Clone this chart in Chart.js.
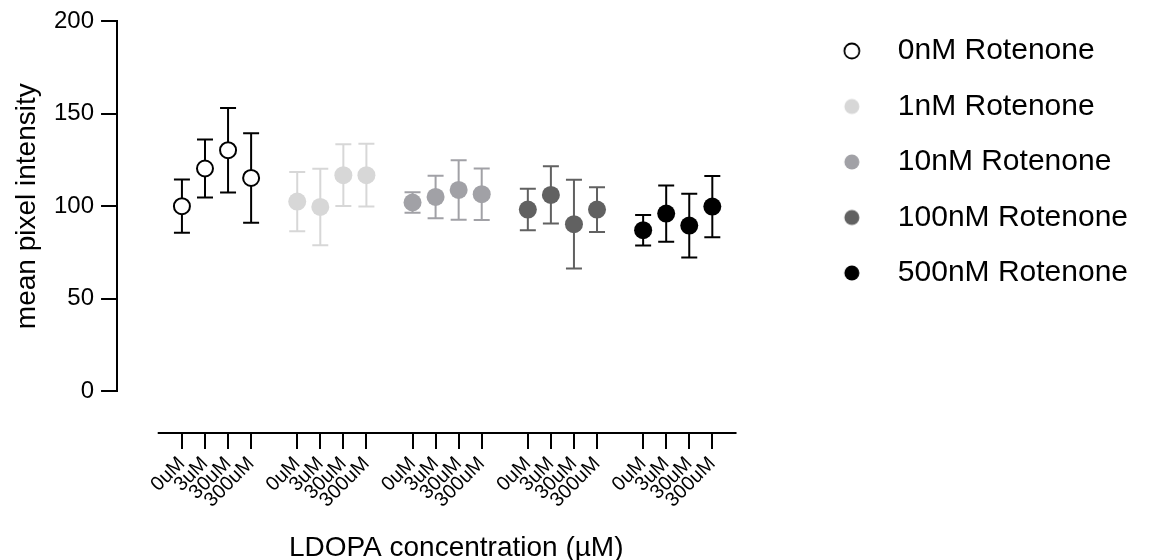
<!DOCTYPE html>
<html>
<head>
<meta charset="utf-8">
<script src="https://cdn.jsdelivr.net/npm/chart.js@4.4.1/dist/chart.umd.min.js"></script>
<style>
  html, body { margin: 0; padding: 0; background: #fff; }
  canvas { display: block; }
</style>
</head>
<body>
<canvas id="chart" width="1158" height="560"></canvas>
<script>
// categories
const doseLabels = ["0uM", "3uM", "30uM", "300uM"];
const rotenoneLabels = ["0nM Rotenone", "1nM Rotenone", "10nM Rotenone", "100nM Rotenone", "500nM Rotenone"];

// mean / SD per rotenone group
const mean0nM = [100.0, 120.4, 130.3, 115.3];
const sd0nM = [14.4, 15.7, 22.9, 24.2];
const mean1nM = [102.5, 99.6, 116.8, 116.8];
const sd1nM = [16.0, 20.7, 16.7, 17.0];
const mean10nM = [102.0, 105.0, 108.8, 106.5];
const sd10nM = [5.5, 11.5, 16.1, 13.9];
const mean100nM = [98.2, 106.1, 90.3, 98.2];
const sd100nM = [11.2, 15.5, 24.0, 12.1];
const mean500nM = [87.0, 96.0, 89.5, 99.8];
const sd500nM = [8.3, 15.2, 17.3, 16.6];

const yTicks = [0, 50, 100, 150, 200];

const allMeans = [mean0nM, mean1nM, mean10nM, mean100nM, mean500nM];
const allSds = [sd0nM, sd1nM, sd10nM, sd100nM, sd500nM];
const fillColors = ["#ffffff", "#d7d7d7", "#a1a1a6", "#616161", "#000000"];
const lineColors = ["#000000", "#d7d7d7", "#a1a1a6", "#616161", "#000000"];

// x slot of each point: 4 doses per group, one empty slot between groups
const groupGap = 5;
const xPositions = [];
allMeans.forEach((m, g) => m.forEach((v, d) => xPositions.push(g * groupGap + d)));

// x axis sits below the y range, like Prism's detached axes
const xAxisAt = -22.8;
const xAxisFrom = -1.05, xAxisTo = 24.05;

const FONT = "'Liberation Sans', Arial, Helvetica, sans-serif";
Chart.defaults.font.family = FONT;
Chart.defaults.color = "#000";

// legend markers
function legendDot(fill, stroke) {
  const c = document.createElement("canvas");
  c.width = 20; c.height = 20;
  const g = c.getContext("2d");
  g.beginPath();
  g.arc(10, 10, 7.5, 0, Math.PI * 2);
  g.fillStyle = fill;
  g.fill();
  if (fill === "#ffffff") {
    g.lineWidth = 1.8;
    g.strokeStyle = stroke;
    g.stroke();
  }
  return c;
}
const legendDots = fillColors.map((f, i) => legendDot(f, lineColors[i]));

const datasets = allMeans.map((means, g) => ({
  label: rotenoneLabels[g],
  data: means.map((m, d) => ({ x: g * groupGap + d, y: m })),
  backgroundColor: fillColors[g],
  borderColor: lineColors[g],
  borderWidth: g === 0 ? 2 : 0,
  pointRadius: g === 0 ? 8 : 9,
  pointHoverRadius: g === 0 ? 8 : 9,
  showLine: false
}));

// error bars, drawn under the points
const errorBars = {
  id: "errorBars",
  beforeDatasetsDraw(chart) {
    const ctx = chart.ctx;
    const yScale = chart.scales.y;
    ctx.save();
    chart.data.datasets.forEach((ds, g) => {
      const meta = chart.getDatasetMeta(g);
      meta.data.forEach((pt, i) => {
        const m = allMeans[g][i], s = allSds[g][i];
        const top = yScale.getPixelForValue(m + s);
        const bot = yScale.getPixelForValue(m - s);
        ctx.strokeStyle = lineColors[g];
        ctx.lineWidth = 2;
        ctx.beginPath();
        ctx.moveTo(pt.x, top); ctx.lineTo(pt.x, bot);
        ctx.moveTo(pt.x - 8, top); ctx.lineTo(pt.x + 8, top);
        ctx.moveTo(pt.x - 8, bot); ctx.lineTo(pt.x + 8, bot);
        ctx.stroke();
      });
    });
    ctx.restore();
  }
};

// x axis line, shorter than the plot width
const xAxisLine = {
  id: "xAxisLine",
  afterDraw(chart) {
    const ctx = chart.ctx;
    const x = chart.scales.x, y = chart.scales.y;
    const py = Math.round(y.getPixelForValue(xAxisAt));
    ctx.save();
    ctx.strokeStyle = "#000";
    ctx.lineWidth = 2;
    ctx.beginPath();
    ctx.moveTo(x.getPixelForValue(xAxisFrom), py);
    ctx.lineTo(x.getPixelForValue(xAxisTo), py);
    ctx.stroke();
    ctx.restore();
  }
};

new Chart(document.getElementById("chart"), {
  type: "scatter",
  data: { datasets },
  plugins: [errorBars, xAxisLine],
  options: {
    responsive: false,
    animation: false,
    clip: false,
    layout: { padding: { top: 10.5, right: 20, bottom: 169, left: 0 } },
    plugins: {
      tooltip: { enabled: false },
      legend: {
        position: "right",
        align: "start",
        maxWidth: 420,
        labels: {
          usePointStyle: true,
          pointStyleWidth: 62,
          padding: 25.5,
          color: "#000",
          font: { size: 30, family: FONT },
          generateLabels: (chart) => chart.data.datasets.map((ds, i) => ({
            text: ds.label,
            pointStyle: legendDots[i],
            fillStyle: fillColors[i],
            strokeStyle: lineColors[i],
            lineWidth: 0,
            hidden: false,
            datasetIndex: i,
            fontColor: "#000"
          }))
        }
      }
    },
    scales: {
      x: {
        type: "linear",
        position: { y: xAxisAt },
        min: -2.814,
        max: 26.6,
        afterBuildTicks: (scale) => { scale.ticks = xPositions.map(v => ({ value: v })); },
        border: { display: false },
        grid: {
          drawOnChartArea: false,
          drawTicks: true,
          tickLength: 16,
          color: "#000",
          lineWidth: 2
        },
        ticks: {
          autoSkip: false,
          minRotation: 45,
          maxRotation: 45,
          padding: 3,
          color: "#000",
          font: { size: 20 },
          callback: (value, index) => doseLabels[index % doseLabels.length]
        },
        title: {
          display: true,
          text: "LDOPA concentration (µM)",
          color: "#000",
          font: { size: 28, lineHeight: 1 },
          padding: { top: 18.8, bottom: 0 }
        }
      },
      y: {
        min: 0,
        max: 200,
        afterBuildTicks: (scale) => { scale.ticks = yTicks.map(v => ({ value: v })); },
        border: { display: true, color: "#000", width: 2 },
        grid: {
          drawOnChartArea: false,
          drawTicks: true,
          tickLength: 16,
          color: "#000",
          lineWidth: 2
        },
        ticks: {
          padding: 7,
          color: "#000",
          font: { size: 24 }
        },
        title: {
          display: true,
          text: "mean pixel intensity",
          color: "#000",
          font: { size: 28, lineHeight: 1 },
          padding: { top: 13, bottom: 6 }
        }
      }
    }
  }
});
</script>
</body>
</html>
